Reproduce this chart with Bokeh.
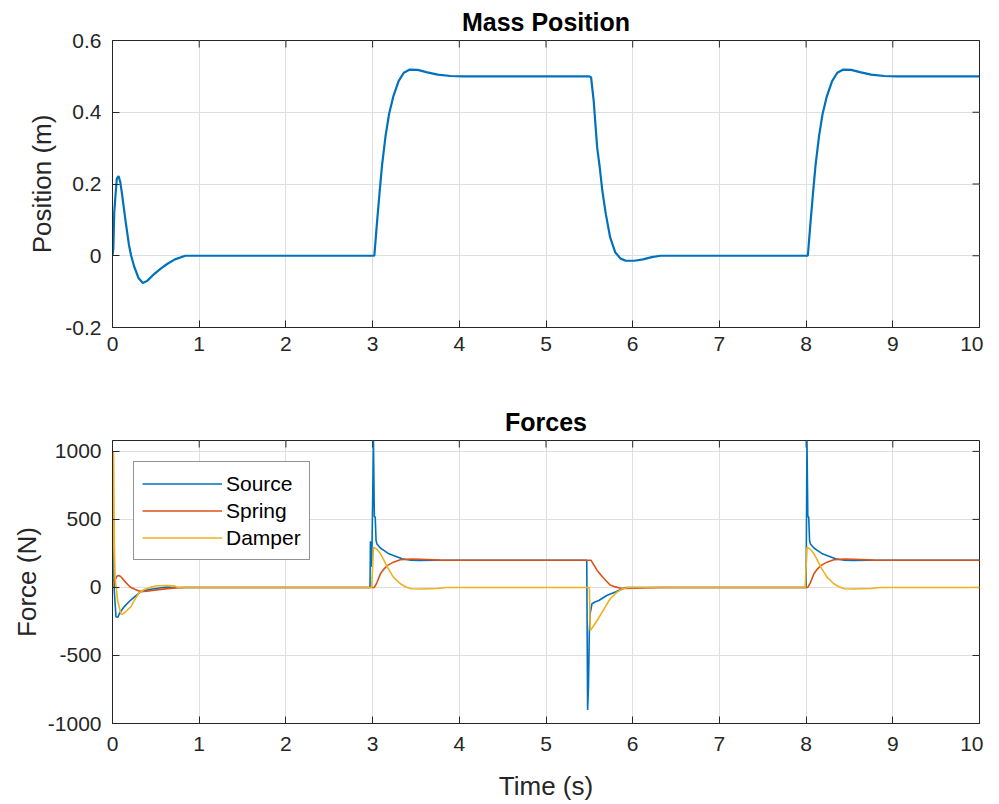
import math
from bokeh.plotting import figure
from bokeh.models import FixedTicker
from bokeh.layouts import column
from bokeh.embed import file_html
from bokeh.resources import INLINE

# ---------------- data ----------------
pos_t = [0.0, 0.01, 0.02, 0.035, 0.05, 0.07, 0.09, 0.11, 0.15, 0.19, 0.215, 0.25, 0.30, 0.35,
         0.40, 0.48, 0.56, 0.63, 0.72, 0.84,
         3.0, 3.02, 3.05, 3.08, 3.11, 3.15, 3.19, 3.24, 3.30, 3.36, 3.43, 3.52, 3.62, 3.75, 3.90, 4.05,
         5.50, 5.52, 5.55, 5.57, 5.59, 5.62, 5.65, 5.69, 5.74, 5.80, 5.86, 5.92, 6.02, 6.12, 6.22, 6.32,
         8.0, 8.02, 8.05, 8.08, 8.11, 8.15, 8.19, 8.24, 8.30, 8.36, 8.43, 8.52, 8.62, 8.75, 8.90, 9.05,
         10.0]
pos_x = [0.0, 0.02, 0.12, 0.17, 0.215, 0.222, 0.205, 0.172, 0.098, 0.03, 0.0, -0.03, -0.062, -0.076,
         -0.07, -0.051, -0.035, -0.023, -0.01, 0.0,
         0.0, 0.0, 0.09, 0.175, 0.255, 0.335, 0.395, 0.445, 0.487, 0.510, 0.519, 0.518, 0.512, 0.505, 0.501, 0.500,
         0.500, 0.497, 0.432, 0.367, 0.302, 0.246, 0.181, 0.116, 0.051, 0.009, -0.008, -0.014, -0.014, -0.010, -0.004, 0.0,
         0.0, 0.0, 0.09, 0.175, 0.255, 0.335, 0.395, 0.445, 0.487, 0.510, 0.519, 0.518, 0.512, 0.505, 0.501, 0.500,
         0.500]

src_t = [0.0, 0.006, 0.012, 0.02, 0.04, 0.06, 0.09, 0.13, 0.19, 0.25, 0.32, 0.40, 0.48, 0.56, 0.63, 0.70,
         2.97, 2.975, 2.99, 3.01, 3.02, 3.03, 3.04, 3.05, 3.09, 3.13, 3.18, 3.24, 3.34, 3.44, 3.55, 3.75,
         5.47, 5.48, 5.49, 5.50, 5.51, 5.53, 5.57, 5.61, 5.70, 5.80, 5.86, 5.92,
         8.0, 8.01, 8.02, 8.03, 8.04, 8.05, 8.09, 8.13, 8.18, 8.24, 8.34, 8.44, 8.55, 8.75, 10.0]
src_f = [0.0, 0, 360, -20, -215, -220, -180, -145, -105, -71, -34, -18, -10, -2, 2, 0,
         0, 340, 150, 1080, 520, 520, 345, 320, 290, 272, 250, 235, 211, 200, 198, 200,
         200, -900, -730, -320, -190, -120, -105, -96, -59, -34, -17, 0,
         0, 1080, 520, 520, 345, 320, 290, 272, 250, 235, 211, 200, 198, 200, 200]

spr_t = [0.0, 0.02, 0.05, 0.07, 0.09, 0.11, 0.15, 0.19, 0.215, 0.25, 0.30, 0.35, 0.40, 0.48, 0.56,
         0.63, 0.72, 0.84,
         3.0, 3.02, 3.05, 3.09, 3.13, 3.17, 3.24, 3.32, 3.44, 3.55, 3.78, 4.05,
         5.50, 5.52, 5.59, 5.67, 5.74, 5.80, 5.86, 5.92, 6.05, 6.20, 6.32,
         8.0, 8.02, 8.05, 8.09, 8.13, 8.17, 8.24, 8.32, 8.44, 8.55, 8.78, 10.0]
spr_f = [0.0, 40, 82, 88, 82, 69, 39, 12, 0, -12, -25, -30, -28, -20, -14,
         -9, -4, 0,
         0, 0, 36, 100, 135, 160, 186, 203, 208, 207, 201, 200,
         200, 199, 125, 64, 18, 4, -6, -7, -6, -2, 0,
         0, 0, 36, 100, 135, 160, 186, 203, 208, 207, 201, 200]

dmp_t = [0.0, 0.012, 0.016, 0.022, 0.03, 0.06, 0.10, 0.13, 0.18, 0.21, 0.25, 0.30, 0.36, 0.44, 0.51,
         0.62, 0.71, 0.75,
         2.99, 3.01, 3.05, 3.09, 3.13, 3.17, 3.24, 3.32, 3.38, 3.44, 3.55, 3.75, 3.85,
         5.50, 5.51, 5.53, 5.59, 5.67, 5.74, 5.82, 5.88, 5.95,
         7.99, 8.01, 8.05, 8.09, 8.13, 8.17, 8.24, 8.32, 8.38, 8.44, 8.55, 8.75, 8.85, 10.0]
dmp_f = [0.0, 995, 700, 300, 70, -100, -200, -190, -160, -145, -96, -46, -17, 2, 12,
         14, 12, 0,
         0, 296, 280, 248, 200, 149, 76, 27, 5, -10, -12, -8, 0,
         0, -316, -300, -243, -157, -83, -34, -10, 0,
         0, 296, 280, 248, 200, 149, 76, 27, 5, -10, -12, -8, 0, 0]

x_ticks = [0, 1, 2, 3, 4, 5, 6, 7, 8, 9, 10]
pos_ticks = [-0.2, 0, 0.2, 0.4, 0.6]
pos_tick_labels = ["-0.2", "0", "0.2", "0.4", "0.6"]
f_ticks = [-1000, -500, 0, 500, 1000]
f_tick_labels = ["-1000", "-500", "0", "500", "1000"]

C_BLUE = "#0072BD"
C_RED = "#D95319"
C_YEL = "#EDB120"
AX = "#262626"
GRID = "#dfdfdf"
FONT = "Liberation Sans"


def style_axis(ax, ticks, labels=None):
    ax.ticker = FixedTicker(ticks=ticks)
    ax.minor_tick_line_color = None
    ax.major_tick_in = 7
    ax.major_tick_out = 0
    ax.axis_line_color = AX
    ax.major_tick_line_color = AX
    ax.major_label_text_font = FONT
    ax.major_label_text_color = AX
    ax.major_label_text_font_size = "21px"
    ax.axis_label_text_font = FONT
    ax.axis_label_text_font_style = "normal"
    ax.axis_label_text_color = AX
    ax.axis_label_text_font_size = "26px"
    if labels is not None:
        ax.major_label_overrides = {t: l for t, l in zip(ticks, labels)}


def make_fig(title, yr, yticks, ylabels, ylabel, xlabel, border_top, border_bottom, fh,
             x_lab_standoff, y_axis_lab_standoff):
    p = figure(frame_width=867, frame_height=fh, x_range=(0, 10), y_range=yr,
               output_backend="svg", toolbar_location=None, title=title,
               min_border_left=112, min_border_right=4,
               min_border_top=border_top, min_border_bottom=border_bottom)
    p.title.text_font = FONT
    p.title.text_font_size = "25px"
    p.title.text_font_style = "bold"
    p.title.align = "center"
    p.title.text_color = "#000000"
    p.title.standoff = 10
    p.outline_line_color = AX
    p.outline_line_alpha = 1.0
    p.background_fill_color = "white"
    p.border_fill_color = "white"
    style_axis(p.xaxis[0], x_ticks)
    style_axis(p.yaxis[0], yticks, ylabels)
    p.xaxis[0].major_label_standoff = x_lab_standoff
    p.yaxis[0].major_label_standoff = 11
    p.yaxis[0].axis_label = ylabel
    p.yaxis[0].axis_label_standoff = y_axis_lab_standoff
    if xlabel:
        p.xaxis[0].axis_label = xlabel
        p.xaxis[0].axis_label_standoff = 17
    p.xgrid.ticker = FixedTicker(ticks=x_ticks)
    p.ygrid.ticker = FixedTicker(ticks=yticks)
    for g in (p.xgrid[0], p.ygrid[0]):
        g.grid_line_color = GRID
        g.grid_line_width = 1
    # inward tick marks on the top and right edges of the box (clipped to the frame)
    p.scatter(x=x_ticks, y=[yr[1]] * len(x_ticks), marker="dash", size=14, angle=math.pi / 2,
              line_color=AX, line_width=1)
    p.scatter(x=[10] * len(yticks), y=yticks, marker="dash", size=14,
              line_color=AX, line_width=1)
    return p


p1 = make_fig("Mass Position", (-0.2, 0.6), pos_ticks, pos_tick_labels, "Position (m)", None,
              40, 68, 287, 9, 5)
p1.line(pos_t, pos_x, line_color=C_BLUE, line_width=2.2)

p2 = make_fig("Forces", (-1000, 1080), f_ticks, f_tick_labels, "Force (N)", "Time (s)",
              45, 77, 283, 13, 3)
p2.line(src_t, src_f, line_color=C_BLUE, line_width=1.6, legend_label="Source")
p2.line(spr_t, spr_f, line_color=C_RED, line_width=1.6, legend_label="Spring")
p2.line(dmp_t, dmp_f, line_color=C_YEL, line_width=1.6, legend_label="Damper")

lg = p2.legend[0]
lg.location = "top_left"
lg.margin = 21
lg.padding = 8
lg.spacing = 0
lg.glyph_width = 80
lg.glyph_height = 27
lg.label_height = 27
lg.label_standoff = 4
lg.label_text_font = FONT
lg.label_text_font_size = "21px"
lg.label_text_color = "#000000"
lg.border_line_color = AX
lg.border_line_width = 1.2
lg.background_fill_alpha = 1.0

layout = column(p1, p2, spacing=0)
open("out.html", "w").write(file_html(layout, INLINE))
